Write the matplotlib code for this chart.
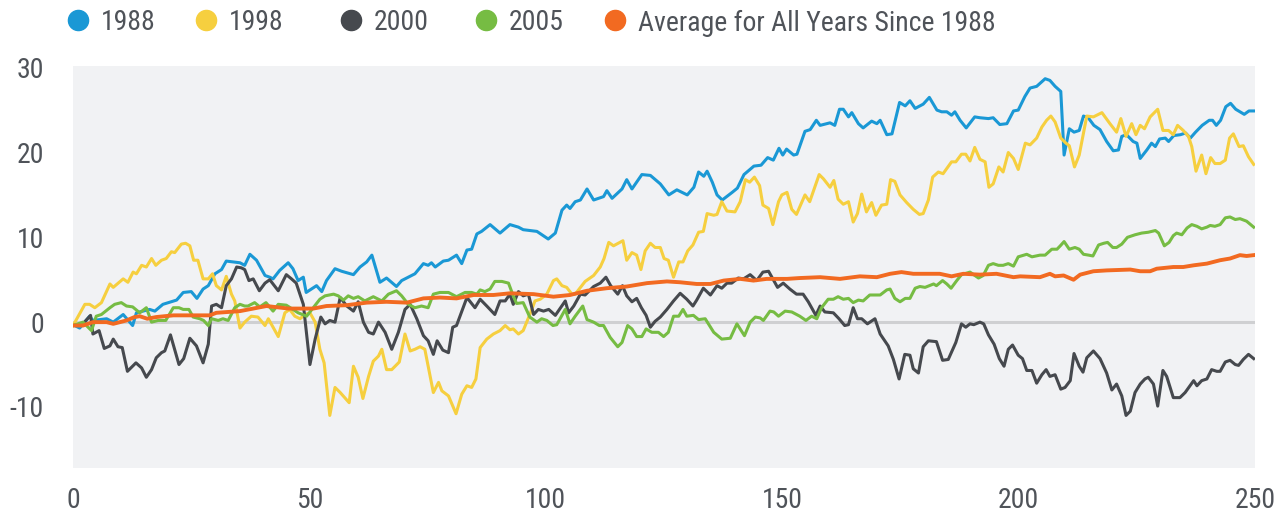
import matplotlib.pyplot as plt
from matplotlib.lines import Line2D

plt.rcParams['font.family'] = ['Roboto Condensed', 'Barlow Condensed', 'DejaVu Sans']
plt.rcParams['axes.unicode_minus'] = False

# --- data (trading day, cumulative return %) ---
x_1988 = [0, 1.4, 3.5, 4.2, 7.1, 8.5, 10.6, 12.6, 13.4, 16.2, 17.3, 19, 21.9, 23.3, 25, 26.2, 27.5,
          28.6, 30, 31.4, 32.4, 35.3, 36.3, 37.4, 38.8, 40.6, 41.6, 42.3, 43.7, 45.5, 46.5, 47.6,
          48.7, 49.3, 51.5, 52.6, 53.6, 55.4, 56.8, 59.3, 60.7, 62.1, 63.2, 64.9, 66.3, 68.4, 69.5,
          72.3, 74.1, 75.1, 75.8, 76.6, 78.3, 79.4, 81.1, 82.2, 83.3, 84.3, 85.4, 86.4, 88.2, 90.3,
          92.4, 94.2, 95.2, 98.1, 100.5, 102, 103.4, 104.4, 105.1, 106.2, 107.3, 108.7, 110.1, 112.2,
          112.9, 114, 116.1, 117.1, 118.2, 120.3, 122.1, 124.2, 126, 127.7, 129.9, 131.3, 132.3,
          133.4, 134.1, 135.2, 136.2, 137.3, 139.4, 140.5, 141.9, 144, 145.5, 146.9, 148.1, 149.3,
          150.1, 150.9, 152.4, 153.1, 154.8, 155.9, 157.2, 158, 160.1, 161.1, 162.1, 162.9, 164,
          164.7, 166.1, 167.1, 168.9, 170, 170.7, 172.1, 173.2, 174.8, 176, 177, 178.1, 179.8, 181.1,
          182.7, 183.7, 184.8, 185.8, 186.5, 187.6, 188.9, 190.7, 191.8, 193.6, 194.6, 196, 197.5,
          198.9, 199.9, 201.3, 202.4, 203.8, 205.6, 206.6, 207.7, 208.9, 209.6, 210.7, 211.7, 212.8,
          213.7, 214.7, 215.9, 217.2, 218.6, 220, 221.1, 221.8, 222.8, 224.2, 225, 225.7, 227.1,
          228.1, 228.9, 229.8, 231, 231.7, 232.8, 234.2, 235.3, 236.3, 237.4, 238.8, 240.3, 241,
          241.8, 242.7, 243.8, 244.8, 245.9, 247.7, 248.7, 249.8]
y_1988 = [-0.3, -0.7, 0.7, 0.2, 0.4, 0, 0.9, -0.4, 1.1, 1.5, 1.3, 2.1, 2.6, 3.5, 3.6, 2.8, 3.9,
          4.3, 5.7, 6.2, 7.2, 7.0, 6.7, 8.0, 7.3, 5.5, 5.3, 5.1, 6.1, 7.0, 6.3, 4.9,
          5.3, 3.5, 4.3, 3.6, 4.9, 6.3, 6.0, 5.6, 6.5, 7.1, 7.9, 4.7, 5.2, 4.2, 4.9,
          5.7, 6.9, 6.7, 7.0, 6.5, 7.2, 7.3, 7.9, 6.9, 8.5, 8.6, 10.4, 10.7, 11.5, 10.5,
          11.5, 11.2, 10.9, 10.7, 9.8, 10.5, 13.2, 13.8, 13.4, 14.2, 14.4, 15.7, 14.4, 14.8,
          15.5, 14.6, 15.7, 16.8, 15.7, 17.4, 17.3, 16.3, 15.0, 15.6, 15.0, 15.9, 17.7,
          17.2, 17.8, 16.5, 15.0, 14.4, 15.3, 15.8, 17.4, 18.4, 18.5, 19.4, 19.1, 20.5,
          19.7, 20.4, 19.7, 19.8, 22.5, 22.7, 23.8, 23.2, 23.5, 23.2, 25.1, 25.1, 24.2,
          24.7, 23.4, 22.9, 23.7, 23.4, 23.8, 22.1, 22.2, 25.9, 25.5, 26.1, 25.2, 25.7, 26.5,
          25.0, 24.8, 24.8, 24.4, 24.8, 23.8, 22.9, 24.2, 24.1, 24.0, 24.1, 23.3, 23.4,
          24.9, 25.0, 26.6, 27.6, 27.8, 28.7, 28.5, 27.8, 27.2, 19.7, 22.8, 22.4, 22.6,
          24.3, 24.1, 23.2, 22.7, 21.3, 20.2, 20.3, 21.9, 22.1, 21.3, 21.1, 19.3, 20.3,
          21.1, 20.7, 21.6, 21.7, 21.3, 22.0, 22.1, 22.3, 21.7, 22.4, 23.2, 23.8, 23.8,
          23.2, 23.8, 25.4, 25.8, 25.1, 24.5, 24.9, 24.9]

x_1998 = [0, 1.1, 2.5, 3.5, 4.6, 6, 7.8, 8.5, 10.6, 11.6, 12.7, 13.4, 14.5, 15.5, 16.6, 17.5, 18.7,
          19.7, 20.8, 21.5, 22.9, 23.8, 24.7, 25.5, 26.4, 27.5, 28.6, 29.5, 30.3, 31.4, 32.4, 33.5,
          34.2, 35.3, 36.3, 37.7, 39.1, 40.6, 41.3, 43.4, 44.8, 45.8, 46.9, 48, 49.1, 50.1, 51.2,
          52.2, 53.1, 54.3, 55.4, 56.5, 58.4, 59.3, 60.3, 61.3, 62.5, 63.5, 64.6, 65.3, 66.3, 67.4,
          69, 70.2, 71.3, 72.3, 73.4, 74.4, 76.2, 77.3, 78, 79.4, 81, 82.2, 83.3, 84.3, 85.2, 86.1,
          87.5, 88.9, 90.3, 91.4, 92.4, 93.1, 94.2, 95.2, 96.6, 97.7, 98.8, 100.2, 101.6, 102.3,
          103.4, 104.4, 105.5, 106.2, 108.3, 110.1, 111.5, 112.3, 113.3, 114.3, 116.3, 117.1, 118.2,
          119.2, 120.1, 121, 122.1, 123.1, 124.2, 125, 125.9, 127, 128.1, 129, 130, 131.1, 132.3,
          133.3, 134.1, 135.5, 136.2, 137.2, 138.3, 140, 141.1, 142.2, 143.1, 144.1, 145.2, 145.9,
          147.1, 148, 149.2, 149.9, 151, 152, 153, 154.8, 155.8, 157.8, 158.7, 160.1, 160.9, 161.8,
          162.9, 164, 165, 165.9, 166.8, 167.8, 168.9, 169.8, 171, 172.1, 172.9, 173.8, 174.9,
          176.3, 177.7, 179, 179.8, 180.9, 181.8, 183, 184, 185.8, 186.7, 187.9, 188.8, 189.7,
          190.7, 191.8, 192.9, 193.7, 194.6, 195.8, 196.7, 197.8, 198.9, 199.9, 201.4, 202.4,
          203.8, 204.9, 205.9, 206.8, 207.7, 208.9, 210, 210.7, 211.8, 212.8, 214.4, 215.8, 217.6,
          219.3, 220.7, 221.6, 222.7, 223.9, 224.8, 225.7, 226.6, 227.8, 229.4, 230.5, 231.7,
          232.7, 233.6, 234.8, 235.9, 236.6, 237.5, 238.7, 239.6, 240.6, 241.5, 242.6, 243.7,
          244.6, 245.4, 246.6, 247.5, 248.6, 249.7]
y_1998 = [-0.4, 0.7, 2.1, 2.1, 1.7, 2.3, 4.5, 4.1, 5.1, 4.7, 5.9, 5.7, 6.7, 6.5, 7.5, 6.7, 7.3,
          7.5, 8.3, 8.2, 9.2, 9.3, 9.0, 7.3, 7.3, 5.1, 5.1, 5.7, 4.3, 3.8, 5.4, 3.3,
          2.5, -0.7, 0, 0.7, 0.6, -0.4, 0.4, -1.7, 1.1, 1.5, 0.7, 0.4, 0.9, 1.1, 0,
          -3.2, -4.8, -11.0, -7.7, -8.3, -9.5, -5.2, -6.5, -9.0, -6.4, -4.6, -4.0, -3.2, -5.6, -5.6,
          -4.7, -1.4, -3.4, -3.2, -2.9, -3.2, -8.3, -7.1, -8.1, -8.7, -10.8, -8.5, -7.5, -7.7, -6.7, -3.0,
          -2.0, -1.4, -1.0, -0.4, -0.9, -0.8, -1.4, -1.0, 0.9, 2.5, 2.7, 3.3, 4.9, 5.1,
          4.3, 4.1, 3.3, 3.3, 4.8, 5.5, 6.5, 7.5, 9.4, 9.0, 9.6, 7.3, 8.2,
          7.9, 6.2, 8.4, 9.3, 8.8, 8.8, 7.5, 7.3, 5.3, 7.1, 7.1, 8.4, 9.1, 10.6,
          10.7, 12.8, 12.6, 12.7, 14.2, 13.1, 13.0, 14.2, 16.8, 16.5, 17.1, 16.1, 13.8,
          13.4, 11.5, 14.2, 15.0, 15.3, 13.3, 12.7, 15.0, 14.2, 17.4, 16.9, 15.9, 16.7, 14.5,
          13.9, 14.2, 11.8, 12.8, 15.1, 13.0, 14.1, 12.6, 13.8, 13.9, 16.8, 16.6, 15.0,
          14.1, 13.3, 12.7, 12.8, 14.4, 17.1, 17.7, 17.5, 18.9, 18.9, 19.8, 19.8, 19.0,
          20.6, 19.2, 18.9, 15.9, 16.3, 18.3, 17.7, 20.0, 19.3, 18.0, 21.1, 20.9,
          21.7, 23.0, 23.8, 24.3, 23.6, 21.7, 21.1, 20.8, 18.3, 19.7, 24.3, 24.2, 24.7,
          23.4, 22.4, 24.0, 21.9, 23.4, 22.1, 23.2, 22.8, 24.2, 25.1, 22.6, 22.6,
          22.1, 23.2, 22.6, 21.9, 20.7, 17.8, 19.7, 17.5, 19.4, 18.7, 18.7, 19.1,
          21.7, 22.2, 20.7, 20.8, 19.5, 18.6]

x_2000 = [0, 2.1, 3.7, 4.2, 5.5, 6.6, 7.8, 8.5, 9.5, 10.4, 11.5, 13.3, 14.5, 15.5, 16.6, 17.6, 18.7,
          19.4, 20.6, 22.4, 23.4, 24.7, 26.1, 27.5, 28.6, 29.3, 30.3, 31.4, 32.4, 33.5, 34.6, 35.6,
          36.3, 37.2, 38.1, 39.4, 40.6, 41.6, 43.4, 45.1, 46.2, 47.2, 48.7, 50.1, 51.2, 52.4, 53.3,
          54.3, 55.4, 56.5, 57.9, 59.3, 60.3, 61.4, 62.5, 63.5, 64.6, 66, 67.4, 68.8, 70.2, 71.3,
          72.7, 74.1, 75.1, 76.2, 77, 78.2, 79.4, 80.3, 81.1, 83.3, 85, 86.1, 87.5, 89.2, 90.3, 91.4,
          92.4, 93.1, 94.2, 95.2, 96.3, 97.4, 98.4, 99.5, 100.6, 102, 104.1, 104.8, 105.9, 107.3,
          108.3, 110.1, 111.5, 112.7, 113.7, 115.2, 116.2, 117.1, 118.2, 119.2, 120.2, 121.2, 122.1,
          123.1, 124.2, 125.6, 127, 128.4, 129.8, 131.1, 131.9, 133.3, 134.8, 136.2, 137.2, 138.3,
          139.3, 140.7, 141.8, 143.2, 144.6, 145.9, 147.1, 148.2, 149, 150.2, 151.6, 153, 154.4,
          155.5, 157.1, 158, 159, 160.8, 162, 163.2, 164, 165, 165.9, 166.8, 168, 169.6, 170.7,
          172.4, 173.5, 174.7, 175.9, 177, 177.7, 178.8, 179.8, 180.9, 182.6, 183.9, 185.1, 186.7,
          187.9, 188.8, 189.7, 190.5, 191.8, 192.6, 193.6, 194.8, 195.9, 196.9, 197.8, 198.7,
          199.9, 200.8, 201.7, 202.8, 203.8, 204.9, 205.8, 206.6, 207.7, 208.9, 209.8, 210.9,
          211.7, 212.8, 213.6, 214.4, 215.8, 217.2, 218.6, 219.7, 220.7, 221.8, 222.7, 223.6,
          224.6, 225.7, 226.7, 227.4, 228.5, 229.4, 230.5, 231.3, 232.7, 234.1, 235.2, 237,
          237.7, 238.7, 239.8, 240.8, 241.9, 242.6, 243.7, 244.7, 245.8, 246.5, 247.5, 248.6, 249.7]
y_2000 = [-0.4, -0.2, 0.8, -1.4, -1.0, -3.1, -2.8, -2.0, -2.9, -3.0, -5.8, -4.8, -5.4, -6.5, -5.6, -4.2, -3.6,
          -3.4, -1.5, -5.0, -4.3, -1.9, -2.8, -4.8, -2.6, 1.9, 2.1, 1.7, 4.3, 5.1, 6.5, 6.4,
          6.2, 4.9, 5.1, 3.7, 4.6, 5.0, 3.7, 5.6, 5.1, 4.6, 2.1, -5.0, -2.0, 0.6, -0.2,
          0.2, 0, 2.9, 1.9, 1.3, 2.4, 0, -1.2, -1.4, 0, -1.2, -3.2, -1.2, 1.5, 2.1,
          0.4, -1.6, -2.2, -3.8, -2.2, -3.3, -3.6, -0.6, -0.4, 2.9, 1.7, 2.7, 1.9, 0.9, 2.5, 2.5,
          3.3, 2.1, 3.6, 3.1, 3.3, 0.9, 1.5, 1.3, 1.5, 0.8, 2.5, 1.1, 1.9, 3.3,
          3.2, 4.2, 4.6, 5.3, 4.3, 3.3, 4.3, 3.1, 2.4, 2.8, 1.7, 0.8, -0.6,
          0.1, 0.6, 1.5, 2.5, 3.4, 2.7, 1.9, 2.6, 4.0, 3.2, 4.3, 4.0, 4.6,
          4.6, 5.2, 5.1, 5.6, 4.9, 5.9, 6.0, 4.9, 4.1, 4.6, 3.9, 3.3, 3.3,
          2.4, 0.8, 1.9, 1.2, 1.1, 0.4, -0.4, -0.3, 1.7, 0.4, 0.4, -0.2, 0.4, -1.4,
          -2.8, -4.4, -6.7, -3.8, -3.9, -5.5, -6.0, -2.9, -2.2, -2.3, -4.5, -4.4, -2.4,
          -0.2, -0.6, -0.2, -0.3, 0, -0.2, -1.5, -2.6, -4.3, -5.2, -3.2, -2.7,
          -3.9, -4.3, -5.7, -5.7, -7.2, -6.2, -5.6, -6.4, -6.2, -7.9, -7.7, -6.9,
          -3.7, -5.2, -5.9, -4.2, -3.4, -4.3, -6.0, -8.0, -7.3, -8.7, -11.0, -10.5,
          -8.3, -7.3, -6.7, -6.5, -7.3, -9.9, -5.7, -6.4, -8.9, -8.9, -8.3, -6.9,
          -7.5, -6.9, -6.7, -5.6, -5.8, -5.8, -4.7, -4.5, -5.0, -5.1, -4.4, -3.8, -4.3]

x_2005 = [0, 2.1, 3.9, 4.9, 6, 7.8, 8.8, 10.2, 11.3, 12.6, 14.1, 15.5, 16.6, 18, 19.6, 21.2, 22.4,
          23.3, 24.5, 25.4, 26.8, 27.6, 28.6, 29.3, 30.7, 31.7, 32.8, 34.2, 35.3, 36.3, 37, 38.4,
          39.5, 40.8, 42.3, 43.4, 45.1, 46.5, 47.6, 49.4, 50.8, 52.2, 53.3, 55.1, 56.1, 57.2, 58.2,
          59.3, 60.3, 61.7, 63.5, 65.3, 66.7, 68.4, 69.5, 70.9, 72.3, 73.7, 75.1, 76.2, 77.6, 79.4,
          81.1, 82.9, 84.3, 85.4, 86.1, 87.1, 88.2, 89.2, 90.7, 92.1, 93.1, 93.8, 95.2, 96.6, 98.1,
          99.1, 100.2, 101.5, 102.3, 104.1, 105.1, 106.2, 107.8, 108.7, 110.1, 111.3, 112.2, 113.6,
          115.2, 116.1, 117.3, 118.2, 119.2, 120.3, 121.2, 122.4, 123.8, 124.9, 125.9, 127, 128.1,
          129, 129.8, 131.2, 132.3, 133.7, 135.5, 137.2, 139, 140.4, 142, 143.2, 144.3, 145.3, 146,
          147.4, 148.2, 149.2, 150.6, 152, 153.7, 155, 156.2, 157.3, 158.3, 159.7, 160.8, 161.8,
          162.9, 164, 165, 166.1, 167.1, 168.5, 170.7, 172.1, 172.8, 173.8, 174.9, 176, 177, 178.1,
          179.1, 180.2, 182, 182.6, 183.9, 184.8, 185.7, 186.9, 187.9, 189.7, 191.5, 192.5, 193.6,
          194.6, 195.7, 196.7, 197.8, 198.9, 199.9, 201.7, 202.8, 204.5, 205.6, 207, 208.1, 208.8,
          209.6, 210.7, 211.9, 212.8, 213.7, 214.8, 215.7, 216.9, 218, 218.8, 219.9, 220.7, 221.8,
          223, 224.6, 226, 227.4, 228.9, 229.6, 230.8, 231.8, 232.7, 233.4, 234.5, 235.6, 236.6,
          237.7, 238.7, 239.8, 240.5, 241.5, 242.6, 243.7, 244.7, 245.8, 246.8, 248.2, 249.7]
y_2005 = [-0.4, 0, -1.0, 0.7, 0.9, 1.7, 2.1, 2.3, 1.9, 1.8, 1.1, 1.7, 0, 0.2, 0.2, 1.7, 1.7,
          1.5, 1.5, 0.6, 0.4, 0.2, -0.4, 0.4, 0.2, 0.4, 0.2, 1.7, 2.1, 1.9, 1.9, 2.3,
          1.8, 2.3, 1.3, 2.1, 2.0, 1.5, 1.1, 0.7, 1.7, 2.7, 3.1, 3.3, 3.1, 2.6, 3.1,
          2.8, 3.0, 2.5, 3.0, 2.5, 3.3, 3.7, 3.1, 2.1, 1.7, 1.9, 1.7, 3.3, 3.5, 3.5,
          3.0, 3.5, 3.5, 3.3, 3.8, 3.6, 3.9, 4.8, 4.8, 4.6, 3.1, 2.2, 2.3, 0.6, 0,
          0.4, 0.2, -0.4, -0.3, 1.5, -0.2, 0.7, 1.9, 0.3, 0, -0.4, -0.4, -1.8,
          -2.9, -2.4, -0.4, -0.8, -1.7, -1.7, -0.8, -1.2, -1.2, -1.7, -1.2, 0.7, 0.7,
          1.5, 0.7, 0.8, 0.3, 0.4, -1.2, -2.0, -1.9, -0.2, -1.6, 0, 0.6, 0.5, 0.2,
          1.3, 1.2, 0.7, 1.3, 1.2, 0.7, 0.2, 0.7, 0.4, 1.7, 2.7, 2.7, 3.0,
          2.7, 2.8, 2.3, 2.6, 2.5, 3.2, 3.2, 3.8, 3.9, 2.8, 2.4, 2.8, 2.8, 4.0,
          4.2, 4.1, 4.5, 4.3, 4.9, 4.5, 4.0, 4.9, 5.6, 5.9, 5.2, 5.5, 6.7,
          6.9, 6.7, 6.7, 6.9, 6.6, 7.7, 8.0, 7.7, 7.9, 7.9, 8.6, 8.6, 9.0,
          9.5, 8.6, 8.8, 8.6, 8.0, 7.9, 7.8, 9.1, 9.3, 9.4, 8.8, 8.8, 9.2,
          10.0, 10.3, 10.5, 10.6, 10.8, 10.5, 9.0, 9.4, 10.2, 10.5, 10.3, 11.1, 11.5,
          11.3, 11.0, 11.2, 11.4, 11.3, 11.5, 12.3, 12.4, 12.1, 12.2, 11.9, 11.2]

x_avg = [0, 2.1, 4.2, 7.1, 8.5, 11.3, 13, 14.1, 15.7, 17.6, 21.2, 25.4, 28.9, 30.3, 35.3, 38.1,
         40.9, 45.6, 50.8, 53.6, 57.9, 62.1, 66.3, 70.6, 74.1, 77.6, 81.1, 84.7, 88.9, 92.4, 97.4,
         101.6, 105.1, 108.7, 112.9, 117.1, 121.4, 125.6, 128.4, 131.9, 134.8, 137.6, 141.1, 143.9,
         146.7, 151, 153.7, 158, 162.2, 166.4, 170, 172.8, 175.2, 177.7, 183.3, 185.8, 188.3,
         191.8, 195.3, 198.9, 200.3, 204.5, 206.6, 207.7, 209.5, 211.6, 213, 215.8, 218.6, 223.6,
         225.7, 227.8, 229.2, 232.7, 234.8, 237, 239.8, 242.6, 244.7, 246.8, 248.2, 249.7]
y_avg = [-0.4, -0.4, 0, 0, -0.2, 0.2, 0.6, 0.7, 0.4, 0.6, 0.8, 0.8, 0.8, 1.1, 1.3, 1.6,
         1.9, 1.6, 1.6, 1.9, 2.0, 2.3, 2.4, 2.3, 2.8, 2.9, 2.8, 3.2, 3.2, 3.4, 3.3,
         3.0, 3.2, 3.7, 4.0, 4.2, 4.6, 4.8, 4.7, 4.5, 4.5, 4.9, 5.1, 4.9,
         5.1, 5.1, 5.2, 5.3, 5.1, 5.4, 5.3, 5.7, 5.9, 5.7, 5.7, 5.4, 5.7,
         5.6, 5.7, 5.3, 5.4, 5.3, 5.7, 5.4, 5.5, 5.0, 5.6, 6.0, 6.1, 6.2,
         6.0, 6.0, 6.3, 6.5, 6.5, 6.7, 6.9, 7.3, 7.5, 7.9, 7.8, 7.9]

labels = ['1988', '1998', '2000', '2005', 'Average for All Years Since 1988']
colors = ['#1a98d5', '#f6cf3f', '#46494e', '#76bc43', '#f26a21']
xticks = [0, 50, 100, 150, 200, 250]
yticks = [-10, 0, 10, 20, 30]

text_color = '#4f5359'

fig = plt.figure(figsize=(12.84, 5.12), dpi=100)
ax = fig.add_axes([0.0569, 0.0859, 0.9206, 0.7852])
ax.set_facecolor('#f1f2f4')

ax.axhline(0, color='#cfd0d2', lw=2.2, zorder=1)

series = [(x_1988, y_1988), (x_1998, y_1998), (x_2000, y_2000), (x_2005, y_2005), (x_avg, y_avg)]
for (xs, ys), c, lab in zip(series, colors, labels):
    lw = 2.8 if lab.startswith('Average') else 2.2
    ax.plot(xs, ys, color=c, lw=lw, label=lab, zorder=3, solid_joinstyle='round')

ax.set_xlim(0, 250)
ax.set_ylim(-17.2, 30.2)
ax.set_xticks(xticks)
ax.set_yticks(yticks)
ax.tick_params(length=0, labelsize=20, colors=text_color)
ax.tick_params(axis='y', pad=21)
ax.tick_params(axis='x', pad=14)
for s in ax.spines.values():
    s.set_visible(False)

# legend row across the top, placed item by item like the original
leg_circle_x = [78, 206, 351, 486, 615]
leg_y = 1 - 20 / 512
for cx, c, lab in zip(leg_circle_x, colors, labels):
    fig.add_artist(Line2D([cx / 1284], [leg_y], transform=fig.transFigure, ls='',
                          marker='o', markersize=14.5, color=c))
    fig.text((cx + 23) / 1284, leg_y, lab, fontsize=20, color=text_color,
             ha='left', va='center_baseline')

fig.savefig('out.png', dpi=100)
